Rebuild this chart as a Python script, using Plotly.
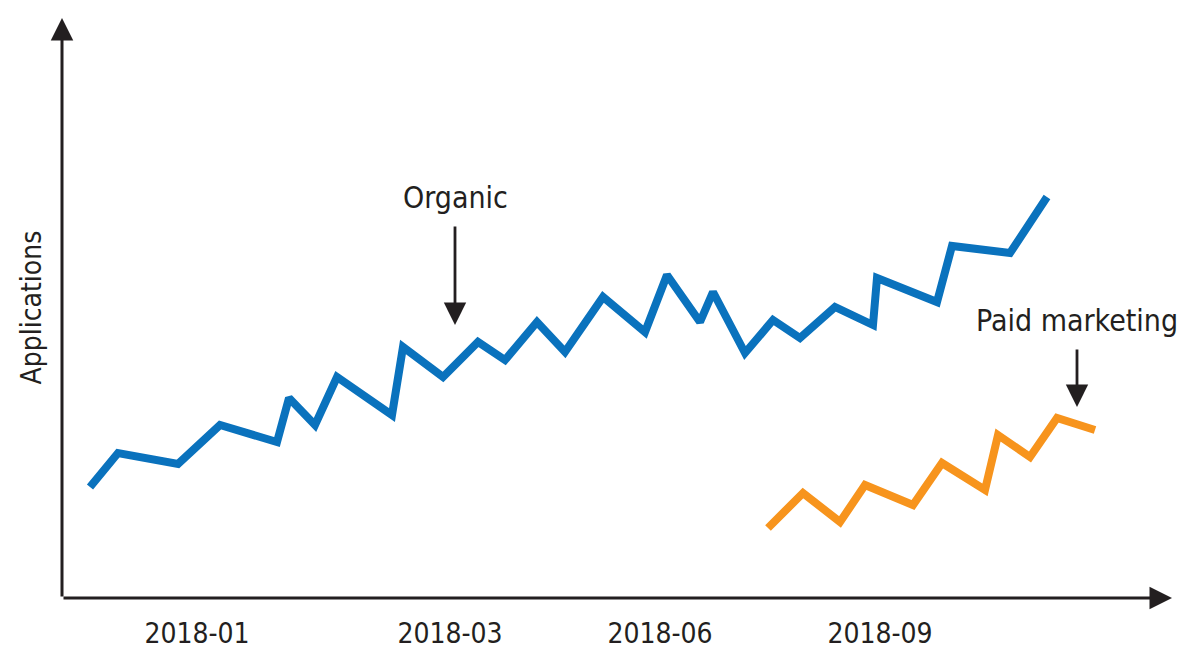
import plotly.graph_objects as go

# time position (weeks-ish) and application counts
organic_t = [2.8, 5.6, 11.6, 15.8, 21.5, 22.7, 25.3, 27.5, 33.0, 34.1, 38.1, 41.6, 44.3, 47.5, 50.3,
             54.1, 58.3, 60.5, 63.8, 65.1, 68.3, 71.1, 73.8, 77.3, 81.1, 81.5, 87.5, 89.0, 94.8, 98.5]
organic_apps = [11.1, 14.5, 13.4, 17.3, 15.6, 20.0, 17.3, 22.1, 18.3, 25.1, 22.1, 25.6, 23.8, 27.6, 24.6,
                30.1, 26.6, 32.3, 27.6, 30.6, 24.5, 27.8, 26.0, 29.1, 27.3, 32.0, 29.6, 35.2, 34.5, 40.1]

paid_t = [70.6, 74.1, 77.8, 80.3, 85.1, 88.0, 92.3, 93.6, 96.8, 99.5, 103.3]
paid_apps = [7.0, 10.5, 7.6, 11.3, 9.3, 13.5, 10.8, 16.3, 14.1, 18.0, 16.8]

tick_pos = [13.5, 38.8, 59.8, 81.8]
tick_text = ['2018-01', '2018-03', '2018-06', '2018-09']

X_MAX = 111
Y_MAX = 58
INK = '#231f20'
COND = 'DejaVu Sans Condensed, DejaVu Sans'
LABEL_FONT = dict(family=COND, size=30, color=INK)

fig = go.Figure()
fig.add_trace(go.Scatter(x=organic_t, y=organic_apps, mode='lines', name='Organic',
                         line=dict(color='#0a72bd', width=8)))
fig.add_trace(go.Scatter(x=paid_t, y=paid_apps, mode='lines', name='Paid marketing',
                         line=dict(color='#f7941d', width=8)))

# axes drawn as arrows
def arrow(x0, y0, x1, y1, width, size):
    fig.add_annotation(x=x1, y=y1, ax=x0, ay=y0, xref='x', yref='y', axref='x', ayref='y',
                       text='', showarrow=True, arrowhead=2, arrowsize=size, arrowwidth=width,
                       arrowcolor=INK)

arrow(0, 0, 0, Y_MAX, 3, 1.5)
arrow(0, 0, X_MAX, 0, 3, 1.5)

# callouts
fig.add_annotation(x=39.3, y=40.1, text='Organic', showarrow=False, font=LABEL_FONT)
arrow(39.3, 37.3, 39.3, 27.3, 2.8, 1.6)
fig.add_annotation(x=101.5, y=27.8, text='Paid marketing', showarrow=False, font=LABEL_FONT)
arrow(101.5, 25.0, 101.5, 19.1, 2.8, 1.6)

fig.add_annotation(x=-0.045, y=0.5, xref='paper', yref='paper', text='Applications', textangle=-90,
                   showarrow=False, font=dict(family=COND, size=28, color=INK))

# page body has an 8px margin, so the margins are trimmed to compensate
fig.update_layout(
    width=1192, height=650,
    margin=dict(l=54, r=28, t=10, b=60, autoexpand=False),
    plot_bgcolor='white', paper_bgcolor='white',
    showlegend=False,
    xaxis=dict(range=[0, X_MAX], showgrid=False, zeroline=False, showline=False, automargin=False,
               tickvals=tick_pos, ticktext=tick_text, ticks='', ticklabelstandoff=16,
               tickfont=dict(family=COND, size=28, color=INK)),
    yaxis=dict(range=[0, Y_MAX], showgrid=False, zeroline=False, showline=False, automargin=False,
               showticklabels=False),
)

fig.write_html('out.html')
